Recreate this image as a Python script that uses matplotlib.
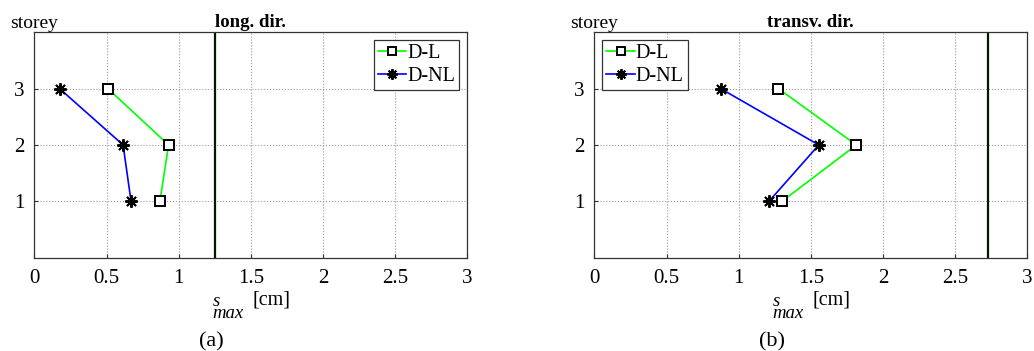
import numpy as np
import matplotlib
matplotlib.use('Agg')
import matplotlib.pyplot as plt

plt.rcParams['font.family'] = ['Liberation Serif', 'DejaVu Serif']

storeys = [1, 2, 3]
# long. dir.
long_dl = [0.87, 0.93, 0.51]
long_dnl = [0.67, 0.615, 0.175]
long_limit = 1.25
# transv. dir.
tran_dl = [1.30, 1.815, 1.275]
tran_dnl = [1.21, 1.555, 0.875]
tran_limit = 2.725

panels = [
    ('long. dir.', long_dl, long_dnl, long_limit, '(a)', 'upper right'),
    ('transv. dir.', tran_dl, tran_dnl, tran_limit, '(b)', 'upper left'),
]
x_ticks = [0, 0.5, 1, 1.5, 2, 2.5, 3]
x_ticklabels = ['0', '0.5', '1', '1.5', '2', '2.5', '3']

fig = plt.figure(figsize=(10.34, 3.51), dpi=100)
lefts = [0.0332, 0.5748]
for left, (title, dl, dnl, lim, tag, loc) in zip(lefts, panels):
    ax = fig.add_axes([left, 0.266, 0.4188, 0.642])
    ax.plot(dl, storeys, color='#00ff00', lw=1.2, marker='s', ms=6.5,
            mfc='white', mec='black', mew=1.4, label='D-L')
    ax.plot(dnl, storeys, color='#0000ff', lw=1.2, marker=(8, 2, 0), ms=9,
            mfc='black', mec='black', mew=1.4, label='D-NL')
    ax.axvline(lim, color='#001a00', lw=1.6)
    ax.set_xlim(0, 3)
    ax.set_ylim(0, 4)
    ax.set_xticks(x_ticks)
    ax.set_xticklabels(x_ticklabels)
    ax.set_yticks(storeys)
    ax.grid(True, ls=':', color='#9a9a9a', lw=0.8)
    ax.tick_params(labelsize=15, length=3, direction='in', color='#333333')
    ax.tick_params(axis='x', pad=8)
    ax.tick_params(axis='y', pad=7)
    for s in ax.spines.values():
        s.set_color('#333333')
        s.set_linewidth(0.9)
    ax.set_title(title, fontsize=13.5, fontweight='bold', pad=4)
    ax.text(-0.057, 1.018, 'storey', transform=ax.transAxes, fontsize=14,
            ha='left', va='baseline')
    # x label: s with "max" set underneath, then [cm]
    ax.text(0.411, -0.266, 's\nmax', transform=ax.transAxes, fontsize=13.5,
            style='italic', ha='left', va='baseline', multialignment='left',
            linespacing=0.62)
    ax.text(0.503, -0.208, '[cm]', transform=ax.transAxes, fontsize=14.5,
            ha='left', va='baseline')
    ax.text(0.41, -0.394, tag, transform=ax.transAxes, fontsize=16,
            ha='center', va='baseline')
    leg = ax.legend(loc=loc, fontsize=14.5, frameon=True, fancybox=False,
                    handlelength=1.4, handletextpad=0.05, borderpad=0.2,
                    labelspacing=0.15, borderaxespad=0.4, markerscale=0.85)
    leg.get_frame().set_edgecolor('#333333')
    leg.get_frame().set_linewidth(0.9)
    leg.get_frame().set_alpha(1)

fig.savefig('out.png', dpi=100)
